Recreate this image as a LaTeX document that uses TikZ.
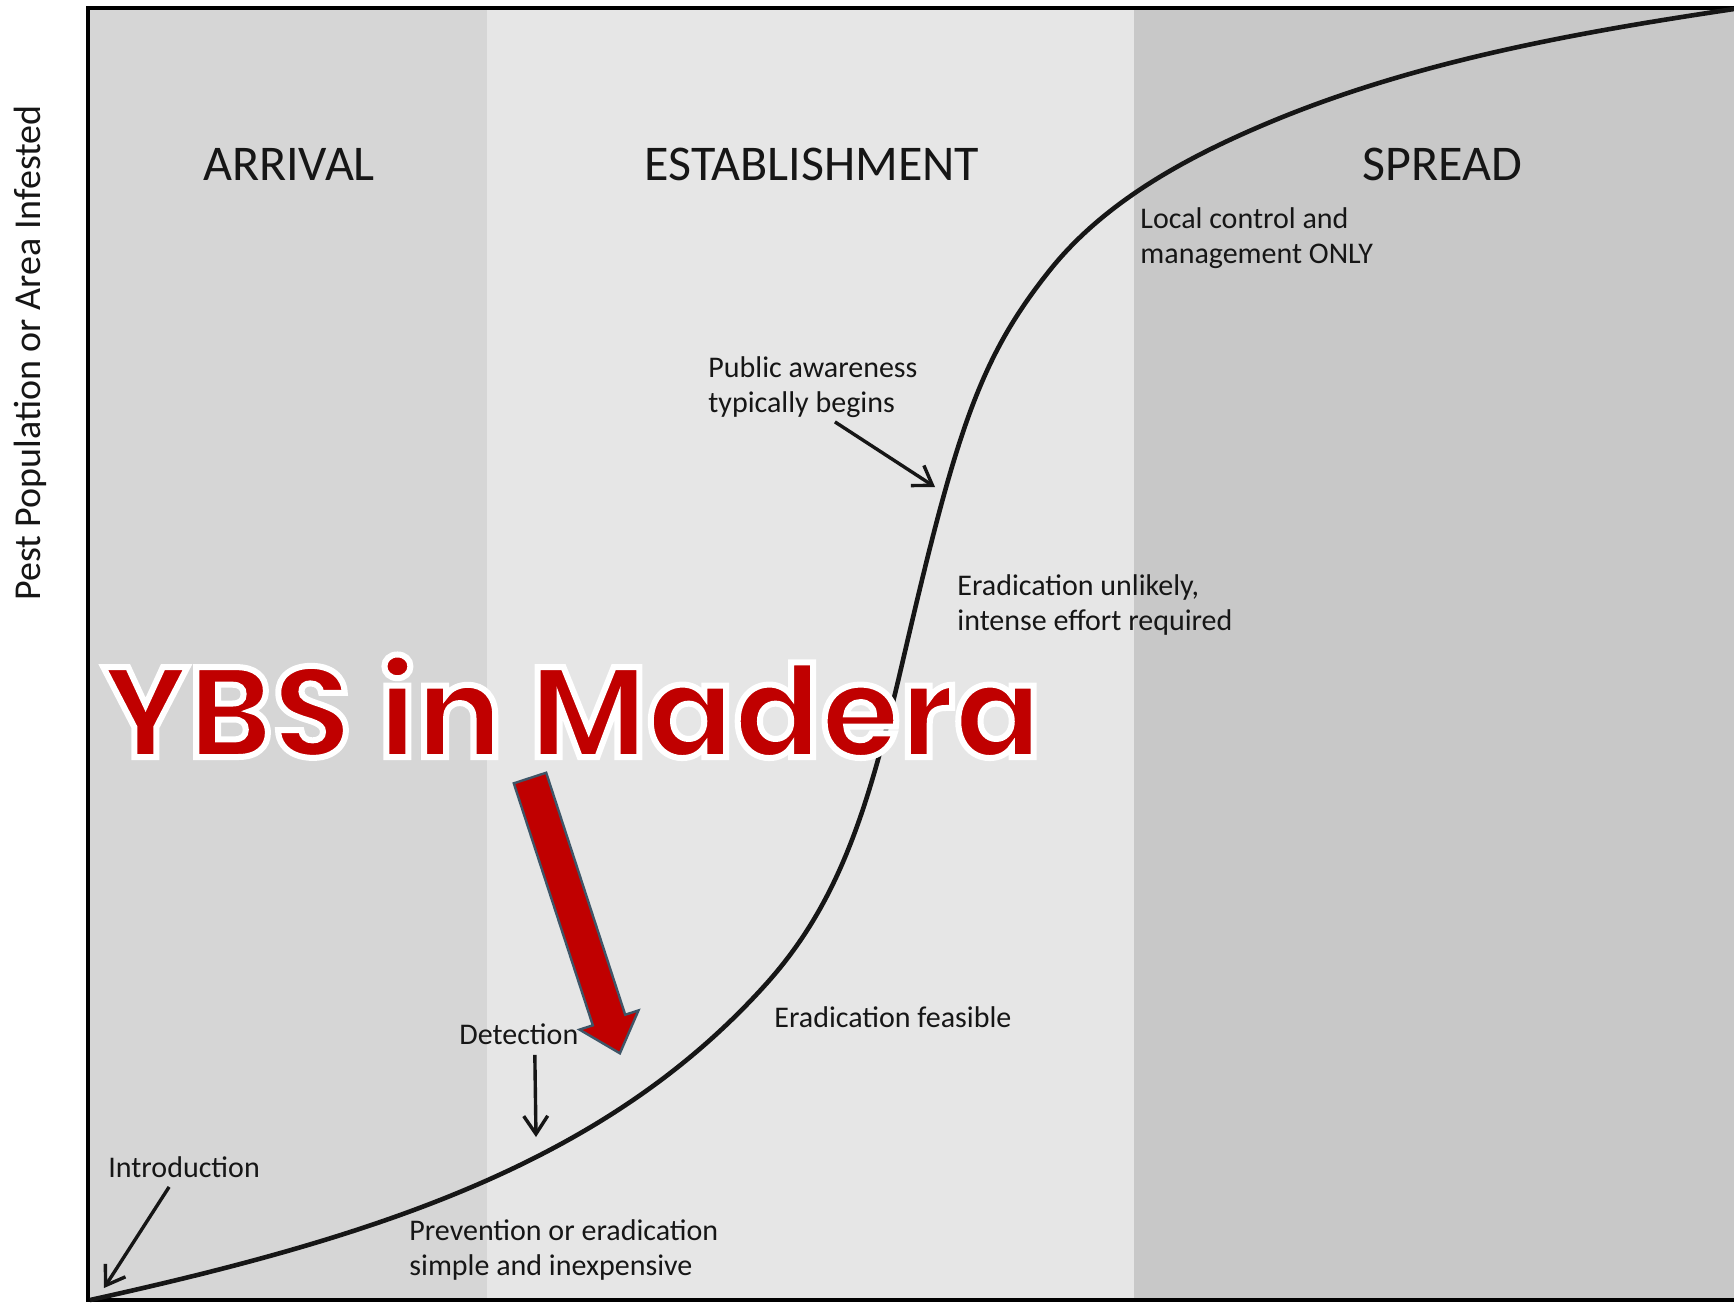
\documentclass[tikz,border=0pt]{standalone}
\usepackage{fontspec}
\setmainfont{Carlito}
\newfontfamily\ybsfont{Poppins}
\usepackage{tikz}
\usetikzlibrary{arrows.meta,positioning}
\definecolor{arrivalcol}{HTML}{D6D6D6}
\definecolor{estabcol}{HTML}{E6E6E6}
\definecolor{spreadcol}{HTML}{C8C8C8}
\definecolor{inkcol}{HTML}{161616}
\definecolor{ybsred}{HTML}{C00000}
\definecolor{ybsedge}{HTML}{3E5668}
\newcommand{\phaseband}[3]{\fill[#3] (#1,8) rectangle (#2,1300);}
\newcommand{\ybsoutline}[2]{\special{pdf:code 2 Tr #1 RG 3 w}#2\special{pdf:code 0 Tr}}

\begin{document}
\begin{tikzpicture}[x=0.5pt,y={(0pt,-0.5pt)},
  lbl/.style={font=\fontsize{15pt}{17.5pt}\selectfont,text=inkcol,align=left,inner sep=0pt,anchor=west},
  phase/.style={font=\fontsize{25pt}{30pt}\selectfont,text=inkcol,inner sep=0pt},
  ptr/.style={-{Straight Barb[length=9pt,width=12pt]},line width=1.7pt,inkcol},
  ybstext/.style={font=\ybsfont\bfseries\fontsize{64pt}{70pt}\selectfont,inner sep=0pt,anchor=base}]
\useasboundingbox (0,0) rectangle (1734,1303);
\fill[white] (0,0) rectangle (1734,1303);

% phase bands
\phaseband{88}{487}{arrivalcol}
\phaseband{487}{1134}{estabcol}
\phaseband{1134}{1734}{spreadcol}
\draw[line width=2.2pt,line cap=rect] (1734,8) -- (88,8) -- (88,1300) -- (1734,1300);

\node[rotate=90,font=\fontsize{19pt}{23pt}\selectfont,text=inkcol] (ylab) at (30,353) {Pest Population or Area Infested};

\node[phase] (arrival) at (289,164) {ARRIVAL};
\node[phase] (establish) at (812,164) {ESTABLISHMENT};
\node[phase] (spread) at (1442,164) {SPREAD};

% invasion curve
\draw[line width=2.3pt,inkcol] (90,1300) .. controls (380,1236) and (607,1162) .. (767,983)
  .. controls (840.8,900.3) and (869.2,805.3) .. (903,660)
  .. controls (956.4,430.4) and (979.3,358.4) .. (1050,270)
  .. controls (1105.5,200.6) and (1188.5,156.4) .. (1268,123)
  .. controls (1417.6,60.2) and (1581.7,31.8) .. (1734,9);

\node[lbl] (localctl) at (1140,238) {Local control and\\management ONLY};
\node[lbl] (aware) at (708,387) {Public awareness\\typically begins};
\node[lbl] (unlikely) at (957,605) {Eradication unlikely,\\intense effort required};
\node[lbl] (feasible) at (774,1017) {Eradication feasible};
\node[lbl] (detect) at (459,1034) {Detection};
\node[lbl] (intro) at (108,1167) {Introduction};
\node[lbl] (prevent) at (409,1250) {Prevention or eradication\\simple and inexpensive};

\coordinate (awarept) at (935,487);
\coordinate (detectpt) at (536,1137);
\coordinate (origin) at (104,1288);
\draw[ptr] ([xshift=11pt,yshift=-2pt]aware.south) -- (awarept);
\draw[ptr] ([xshift=8pt,yshift=-5pt]detect.south) -- (detectpt);
\draw[ptr] ([xshift=-7.5pt,yshift=-4.5pt]intro.south) -- (origin);

% big red pointer
\draw[fill=ybsred,draw=ybsedge,line width=1.2pt,line join=miter] (513.8,783.3) -- (546.2,772.7) -- (625.2,1014.7) -- (638.5,1010.4) -- (619.9,1053.3) -- (579.5,1029.6) -- (592.8,1025.3) -- cycle;

\node[ybstext,text=ybsred] (ybs) at (572,757) {\ybsoutline{1 1 1}{YBS in Madera}};
\end{tikzpicture}
\end{document}
